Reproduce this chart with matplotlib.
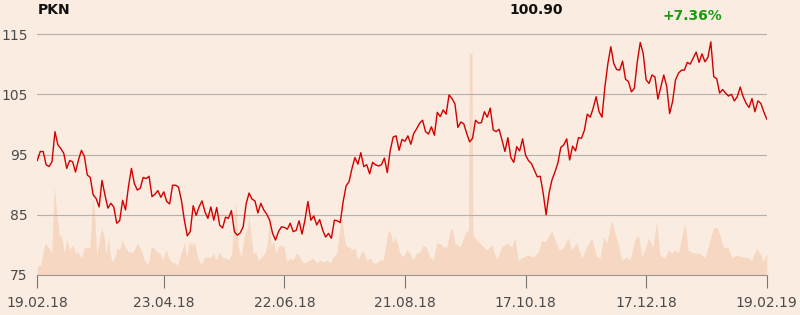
import numpy as np
import matplotlib
matplotlib.use('Agg')
import matplotlib.pyplot as plt

# PKN close, one value per trading day (19.02.18 .. 19.02.19)
price = [
    94.0, 95.5, 95.5, 93.3, 93.0, 93.8, 98.8, 96.6, 96.0, 95.2,
    92.7, 94.0, 93.8, 92.1, 94.1, 95.7, 94.7, 91.6, 91.2, 88.3,
    87.7, 86.3, 90.7, 88.3, 86.1, 86.9, 86.3, 83.6, 84.0, 87.4,
    85.8, 89.7, 92.7, 90.2, 89.1, 89.4, 91.2, 91.0, 91.4, 88.0,
    88.4, 89.0, 87.9, 88.8, 87.2, 86.8, 89.9, 89.9, 89.6, 87.4,
    84.1, 81.5, 82.2, 86.5, 84.9, 86.3, 87.3, 85.5, 84.4, 86.3,
    84.1, 86.2, 83.3, 82.8, 84.6, 84.4, 85.7, 82.2, 81.6, 82.0,
    83.0, 86.8, 88.6, 87.6, 87.3, 85.3, 86.9, 85.8, 85.1, 84.1,
    81.9, 80.8, 82.2, 83.0, 82.9, 82.6, 83.6, 82.2, 82.4, 84.0,
    81.8, 84.1, 87.2, 84.1, 84.8, 83.3, 84.2, 82.5, 81.3, 81.9,
    81.1, 84.1, 84.0, 83.7, 87.2, 89.8, 90.5, 92.7, 94.5, 93.4,
    95.3, 93.0, 93.3, 91.8, 93.7, 93.3, 93.1, 93.3, 94.4, 92.0,
    95.7, 97.9, 98.1, 95.7, 97.5, 97.2, 98.1, 96.7, 98.5, 99.3,
    100.2, 100.7, 98.8, 98.4, 99.6, 98.2, 102.0, 101.3, 102.4, 101.7,
    104.9, 104.3, 103.4, 99.5, 100.4, 100.1, 98.5, 97.1, 97.7, 100.7,
    100.2, 100.3, 102.1, 101.2, 102.7, 99.1, 98.8, 99.2, 97.4, 95.5,
    97.8, 94.5, 93.7, 96.3, 95.6, 97.6, 94.9, 94.0, 93.5, 92.4,
    91.3, 91.4, 88.6, 85.0, 88.6, 90.8, 92.1, 93.6, 96.2, 96.6,
    97.6, 94.1, 96.4, 95.6, 97.8, 97.7, 99.0, 101.7, 101.2, 102.7,
    104.6, 102.1, 101.2, 106.3, 110.1, 112.9, 110.1, 109.1, 109.0, 110.5,
    107.5, 107.1, 105.4, 106.0, 110.4, 113.6, 111.8, 107.4, 106.8, 108.2,
    107.9, 104.2, 106.2, 108.2, 106.3, 101.8, 103.8, 107.4, 108.5, 109.0,
    109.0, 110.3, 110.0, 111.0, 112.0, 110.3, 111.7, 110.4, 111.1, 113.7,
    107.9, 107.6, 105.2, 105.8, 105.2, 104.7, 105.0, 103.9, 104.6, 106.2,
    104.6, 103.5, 102.8, 104.3, 102.1, 103.9, 103.5, 102.1, 100.9,
]

# volume (relative units) at trading-day positions
vol_pos = [
    0.0, 1.2, 2.6, 3.7, 4.9, 5.8, 6.6, 7.5, 8.3, 9.2, 10.0, 10.9, 12.0, 13.1,
    13.9, 14.9, 15.9, 17.0, 17.9, 18.8, 19.6, 20.2, 21.1, 21.9, 22.7, 23.4,
    24.1, 24.7, 25.5, 26.4, 27.2, 27.9, 28.9, 29.8, 30.9, 32.6, 34.0, 35.3,
    36.4, 37.7, 38.7, 39.7, 40.6, 41.7, 42.6, 43.8, 44.5, 45.7, 46.8, 47.7,
    48.9, 50.0, 50.8, 51.7, 52.5, 53.4, 54.5, 55.7, 56.8, 57.9, 59.1, 59.8,
    60.8, 61.8, 62.9, 64.1, 65.2, 66.1, 66.9, 67.6, 68.3, 69.3, 69.8, 70.6,
    71.4, 72.0, 72.7, 73.4, 74.4, 75.1, 76.3, 77.4, 78.2, 78.9, 79.5, 80.2,
    81.1, 81.9, 82.8, 83.9, 84.8, 85.9, 87.0, 88.2, 89.3, 90.4, 91.6, 92.7,
    93.8, 95.0, 96.1, 97.2, 98.4, 99.5, 100.6, 101.8, 102.7, 103.5, 104.3,
    105.2, 106.3, 106.9, 108.0, 108.9, 110.1, 110.8, 112.0, 113.1, 114.2,
    115.4, 116.5, 117.6, 118.6, 119.3, 120.2, 120.8, 121.6, 122.4, 123.3,
    124.4, 125.6, 126.7, 127.8, 129.0, 130.1, 131.2, 132.4, 133.5, 134.6,
    135.8, 136.9, 138.0, 139.2, 140.3, 141.1, 142.0, 143.7, 144.3, 146.0,
    146.6, 146.9, 147.8, 148.1, 149.4, 151.1, 152.8, 154.5, 156.2, 157.9,
    159.6, 161.3, 162.4, 163.5, 165.3, 166.9, 168.6, 170.4, 171.5, 172.6,
    173.7, 174.9, 176.0, 177.5, 178.8, 180.5, 181.7, 183.4, 185.1, 186.8,
    188.5, 190.2, 191.3, 192.5, 193.6, 195.3, 196.4, 197.6, 198.7, 200.4,
    201.5, 203.2, 204.4, 205.5, 206.6, 207.8, 209.3, 210.6, 211.7, 213.4,
    214.6, 215.7, 216.8, 218.0, 219.1, 220.2, 221.3, 223.0, 224.8, 225.9,
    227.0, 228.1, 229.9, 231.0, 232.1, 233.2, 234.9, 236.1, 237.8, 239.5,
    241.2, 242.9, 244.6, 246.3, 246.8, 248.0,
]
volume = [
    9, 10, 32, 28, 22, 88, 62, 40, 38, 22, 36, 25, 30, 22,
    23, 17, 27, 28, 27, 80, 55, 20, 35, 48, 38, 20,
    38, 22, 13, 18, 27, 25, 35, 28, 23, 23, 32, 25,
    15, 10, 28, 27, 23, 22, 15, 26, 18, 13, 12, 10,
    22, 32, 17, 33, 30, 33, 18, 10, 17, 18, 18, 22,
    15, 23, 18, 17, 15, 22, 55, 72, 28, 18, 28, 42,
    47, 60, 38, 22, 23, 15, 18, 22, 32, 55, 28, 35,
    22, 28, 30, 28, 13, 17, 15, 22, 18, 12, 13, 15,
    17, 12, 15, 13, 15, 12, 18, 22, 42, 58, 38,
    28, 28, 25, 27, 15, 22, 25, 15, 17, 12,
    12, 15, 15, 32, 45, 42, 32, 38, 32, 22,
    18, 25, 22, 15, 22, 23, 30, 27, 18, 15,
    32, 32, 28, 28, 43, 47, 32, 28, 32, 45,
    42, 222, 222, 40, 35, 30, 25, 30, 15, 28,
    32, 28, 37, 15, 18, 20, 18, 23, 35, 33,
    38, 45, 35, 25, 27, 37, 25, 32, 17, 28,
    37, 18, 17, 38, 32, 55, 42, 30, 15, 18,
    15, 35, 40, 18, 25, 37, 28, 53, 20, 17,
    25, 22, 25, 22, 38, 52, 25, 22, 22, 20,
    17, 28, 47, 48, 40, 28, 27, 17, 20, 18,
    18, 15, 27, 18, 13, 21,
]

tick_days = [0, 43, 84, 125, 166, 207, 248]
tick_labels = ['19.02.18', '23.04.18', '22.06.18', '21.08.18',
               '17.10.18', '17.12.18', '19.02.19']
y_ticks = [75, 85, 95, 105, 115]

ticker = 'PKN'
last_price = '100.90'
change = '+7.36%'

bg = '#faece0'
days = np.arange(len(price))

fig = plt.figure(figsize=(8, 3.15), dpi=100, facecolor=bg)
rect = [37.3 / 800, 40 / 315, 729.4 / 800, 253 / 315]

# volume underneath
axv = fig.add_axes(rect)
axv.set_facecolor(bg)
axv.fill_between(vol_pos, 0, volume, color='#f6d7c2', lw=0)
axv.set_xlim(0, 248)
axv.set_ylim(0, 253)
axv.axis('off')

# price on top
ax = fig.add_axes(rect)
ax.patch.set_alpha(0)
ax.plot(days, price, color='#d20000', lw=1.0, zorder=3)
ax.set_xlim(0, 248)
ax.set_ylim(75, 117)
ax.set_yticks(y_ticks)
ax.set_xticks(tick_days)
ax.set_xticklabels(tick_labels)
ax.grid(axis='y', color='#b5b0ab', lw=0.8)
for s in ['top', 'right', 'left']:
    ax.spines[s].set_visible(False)
ax.spines['bottom'].set_color('#9a9692')
ax.spines['bottom'].set_linewidth(0.8)
ax.tick_params(axis='y', length=0, pad=7, labelsize=10, labelcolor='#4a4a4a')
ax.tick_params(axis='x', length=9, width=0.8, color='#7a7672', pad=6,
               labelsize=10, labelcolor='#4a4a4a')

fig.text(37.3 / 800, 1 - 10.5 / 315, ticker, fontsize=10, fontweight='bold',
         ha='left', va='center', color='#111111')
fig.text(536 / 800, 1 - 9.5 / 315, last_price, fontsize=10, fontweight='bold',
         ha='center', va='center', color='#111111')
fig.text(692.5 / 800, 1 - 16 / 315, change, fontsize=10, fontweight='bold',
         ha='center', va='center', color='#1a9a10')

fig.savefig('out.png', dpi=100, facecolor=bg)
